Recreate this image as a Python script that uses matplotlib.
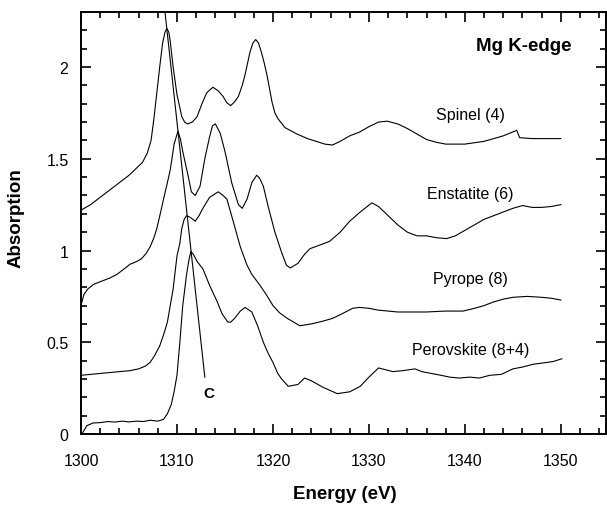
import matplotlib
matplotlib.use("Agg")
import matplotlib.pyplot as plt
from matplotlib.ticker import MultipleLocator

plt.rcParams['font.family'] = ['Liberation Sans', 'DejaVu Sans']

# Mg K-edge XANES spectra
spinel_e = [1300, 1301, 1302, 1303, 1304, 1305, 1305.8, 1306.4, 1306.9, 1307.3, 1307.6,
            1307.9, 1308.2, 1308.5, 1308.75, 1308.95, 1309.15, 1309.3, 1309.6, 1310.0,
            1310.5, 1310.8, 1311.1, 1311.6, 1312.1, 1312.6, 1313.1, 1313.75, 1314.3,
            1314.8, 1315.2, 1315.6, 1316.0, 1316.4, 1316.8, 1317.1, 1317.6, 1317.9,
            1318.2, 1318.5, 1318.8, 1319.1, 1319.4, 1319.9, 1320.2, 1320.5, 1321.25,
            1322.5, 1323.6, 1324.5, 1325.4, 1326.2, 1327, 1328, 1329, 1330, 1331,
            1331.9, 1333, 1334, 1335, 1336, 1337, 1338, 1340, 1342, 1344, 1345.4,
            1345.7, 1347, 1348, 1350]
spinel_a = [1.22, 1.25, 1.29, 1.33, 1.37, 1.41, 1.45, 1.48, 1.53, 1.60, 1.72,
            1.86, 2.00, 2.13, 2.19, 2.21, 2.19, 2.14, 2.00, 1.85,
            1.73, 1.70, 1.69, 1.70, 1.73, 1.80, 1.86, 1.89, 1.87,
            1.84, 1.805, 1.79, 1.81, 1.84, 1.90, 1.96, 2.08, 2.13,
            2.15, 2.13, 2.08, 2.02, 1.95, 1.81, 1.75, 1.72, 1.67,
            1.635, 1.61, 1.595, 1.58, 1.575, 1.595, 1.625, 1.645, 1.675, 1.70,
            1.705, 1.69, 1.665, 1.635, 1.605, 1.59, 1.58, 1.58, 1.595, 1.625, 1.655,
            1.615, 1.61, 1.61, 1.61]

enstatite_e = [1300, 1300.3, 1300.7, 1301.3, 1302, 1303, 1303.75, 1304.5, 1305.1,
               1305.8, 1306.3, 1306.8, 1307.2, 1307.6, 1307.9, 1308.3, 1308.6, 1309.0,
               1309.3, 1309.7, 1310.1, 1310.35, 1310.6, 1311.15, 1311.5, 1311.9, 1312.4,
               1312.9, 1313.4, 1313.7, 1314.0, 1314.5, 1315.0, 1315.7, 1316.4, 1316.8,
               1317.3, 1317.8, 1318.3, 1318.6, 1319.0, 1319.5, 1320.2, 1320.9, 1321.4,
               1321.8, 1322.6, 1323.3, 1323.85, 1324.9, 1325.9, 1327.0, 1328, 1329.1,
               1330.3, 1331, 1332, 1333, 1334, 1335, 1336, 1337, 1338.1, 1339, 1340,
               1341, 1342, 1343, 1344, 1345, 1346, 1347, 1348, 1349, 1350]
enstatite_a = [0.70, 0.76, 0.79, 0.815, 0.83, 0.85, 0.87, 0.90, 0.925,
               0.94, 0.955, 0.985, 1.02, 1.07, 1.12, 1.21, 1.28, 1.37,
               1.44, 1.58, 1.65, 1.61, 1.54, 1.41, 1.32, 1.30, 1.35,
               1.50, 1.62, 1.68, 1.69, 1.64, 1.54, 1.37, 1.25, 1.23,
               1.28, 1.37, 1.41, 1.395, 1.35, 1.24, 1.10, 0.99, 0.92,
               0.905, 0.93, 0.98, 1.01, 1.03, 1.05, 1.10, 1.16, 1.21,
               1.26, 1.24, 1.19, 1.14, 1.10, 1.08, 1.08, 1.07, 1.065, 1.08, 1.11,
               1.14, 1.17, 1.19, 1.21, 1.23, 1.245, 1.235, 1.235, 1.24, 1.25]

pyrope_e = [1300, 1302, 1304, 1305.1, 1306, 1306.7, 1307.2, 1307.7, 1308.2, 1308.6,
            1309.0, 1309.3, 1309.6, 1310.0, 1310.3, 1310.5, 1310.75, 1311.0, 1311.4,
            1311.9, 1312.3, 1312.7, 1313.4, 1314.3, 1314.8, 1315.2, 1315.8, 1316.6,
            1317.3, 1317.8, 1318.65, 1319.3, 1320.0, 1320.7, 1321.5, 1322.8, 1324,
            1325.2, 1326.2, 1327.0, 1328.3, 1329, 1330, 1331, 1332, 1333, 1334, 1336,
            1338, 1339.8, 1341, 1342, 1343, 1344, 1345, 1346.5, 1348, 1349, 1350]
pyrope_a = [0.32, 0.33, 0.34, 0.345, 0.355, 0.37, 0.39, 0.43, 0.48, 0.54,
            0.61, 0.70, 0.79, 0.97, 1.04, 1.12, 1.17, 1.19, 1.18,
            1.16, 1.19, 1.23, 1.29, 1.32, 1.30, 1.28, 1.17, 1.02,
            0.92, 0.87, 0.81, 0.76, 0.70, 0.66, 0.63, 0.59, 0.60,
            0.615, 0.63, 0.65, 0.685, 0.69, 0.685, 0.675, 0.67, 0.665, 0.665, 0.665,
            0.67, 0.67, 0.685, 0.70, 0.72, 0.735, 0.745, 0.75, 0.745, 0.74, 0.73]

perovskite_e = [1300.1, 1300.6, 1301.25, 1302, 1302.8, 1303.5, 1304.3, 1305, 1305.8,
                1306.5, 1307.2, 1308.0, 1308.6, 1309.0, 1309.4, 1309.7, 1310.0, 1310.3,
                1310.6, 1311.0, 1311.25, 1311.45, 1311.7, 1312.1, 1312.7, 1313.4, 1314.2,
                1314.7, 1315.3, 1315.6, 1316.0, 1316.6, 1317.1, 1317.8, 1318.4, 1319.0,
                1319.5, 1320.0, 1320.5, 1320.9, 1321.6, 1322.6, 1323.3, 1324.0, 1325.2,
                1326.7, 1328.0, 1329.1, 1330, 1331, 1332.5, 1333.5, 1334.8, 1335.5,
                1336.5, 1337.5, 1338.4, 1339.4, 1340.5, 1341.5, 1342.6, 1343.8, 1345,
                1346, 1347.1, 1348.5, 1349.2, 1350.1]
perovskite_a = [0.0, 0.045, 0.06, 0.062, 0.068, 0.065, 0.07, 0.066, 0.07,
                0.068, 0.075, 0.07, 0.08, 0.11, 0.16, 0.23, 0.32, 0.50,
                0.70, 0.87, 0.95, 0.995, 0.98, 0.94, 0.90, 0.81, 0.72,
                0.655, 0.61, 0.61, 0.63, 0.67, 0.69, 0.665, 0.59, 0.50,
                0.44, 0.39, 0.33, 0.30, 0.26, 0.27, 0.305, 0.29, 0.255,
                0.22, 0.23, 0.26, 0.31, 0.36, 0.34, 0.345, 0.355, 0.34,
                0.33, 0.32, 0.31, 0.305, 0.31, 0.305, 0.32, 0.325, 0.355,
                0.365, 0.38, 0.39, 0.395, 0.41]

# peak-position guide line "C"
c_line_e = [1308.75, 1312.9]
c_line_a = [2.30, 0.31]

labels = ["Spinel (4)", "Enstatite (6)", "Pyrope (8)", "Perovskite (8+4)"]
label_y = [1.74, 1.31, 0.845, 0.46]

fig = plt.figure(figsize=(6.07, 5.06), dpi=100)
ax = fig.add_axes([81 / 607, 71 / 506, 525 / 607, 422 / 506])

for e, a in [(spinel_e, spinel_a), (enstatite_e, enstatite_a),
             (pyrope_e, pyrope_a), (perovskite_e, perovskite_a)]:
    ax.plot(e, a, color='black', lw=0.8)
ax.plot(c_line_e, c_line_a, color='black', lw=0.8)

for txt, y in zip(labels, label_y):
    ax.text(1340.6, y, txt, ha='center', va='center', fontsize=11.5)
ax.text(1313.3, 0.225, "C", ha='center', va='center', fontsize=11, fontweight='bold')
ax.text(1351.1, 2.12, "Mg K-edge", ha='right', va='center', fontsize=13.5, fontweight='bold')

ax.set_xlim(1300, 1354.7)
ax.set_ylim(0, 2.3)
ax.xaxis.set_major_locator(MultipleLocator(10))
ax.xaxis.set_minor_locator(MultipleLocator(2))
ax.yaxis.set_major_locator(MultipleLocator(0.5))
ax.yaxis.set_minor_locator(MultipleLocator(0.1))
ax.set_yticks([0, 0.5, 1, 1.5, 2])
ax.set_yticklabels(["0", "0.5", "1", "1.5", "2"])

ax.tick_params(which='both', direction='in', top=True, right=True, width=1.2)
ax.tick_params(which='major', length=7, labelsize=11.5)
ax.tick_params(which='minor', length=4)
ax.tick_params(axis='x', which='major', pad=14)
ax.tick_params(axis='y', which='major', pad=9)
for s in ax.spines.values():
    s.set_linewidth(1.4)

ax.set_xlabel("Energy (eV)", fontsize=13.5, fontweight='bold')
ax.set_ylabel("Absorption", fontsize=13.5, fontweight='bold')
ax.xaxis.set_label_coords(0.503, -0.122)
ax.yaxis.set_label_coords(-0.107, 0.514)

fig.savefig("out.png", dpi=100)
